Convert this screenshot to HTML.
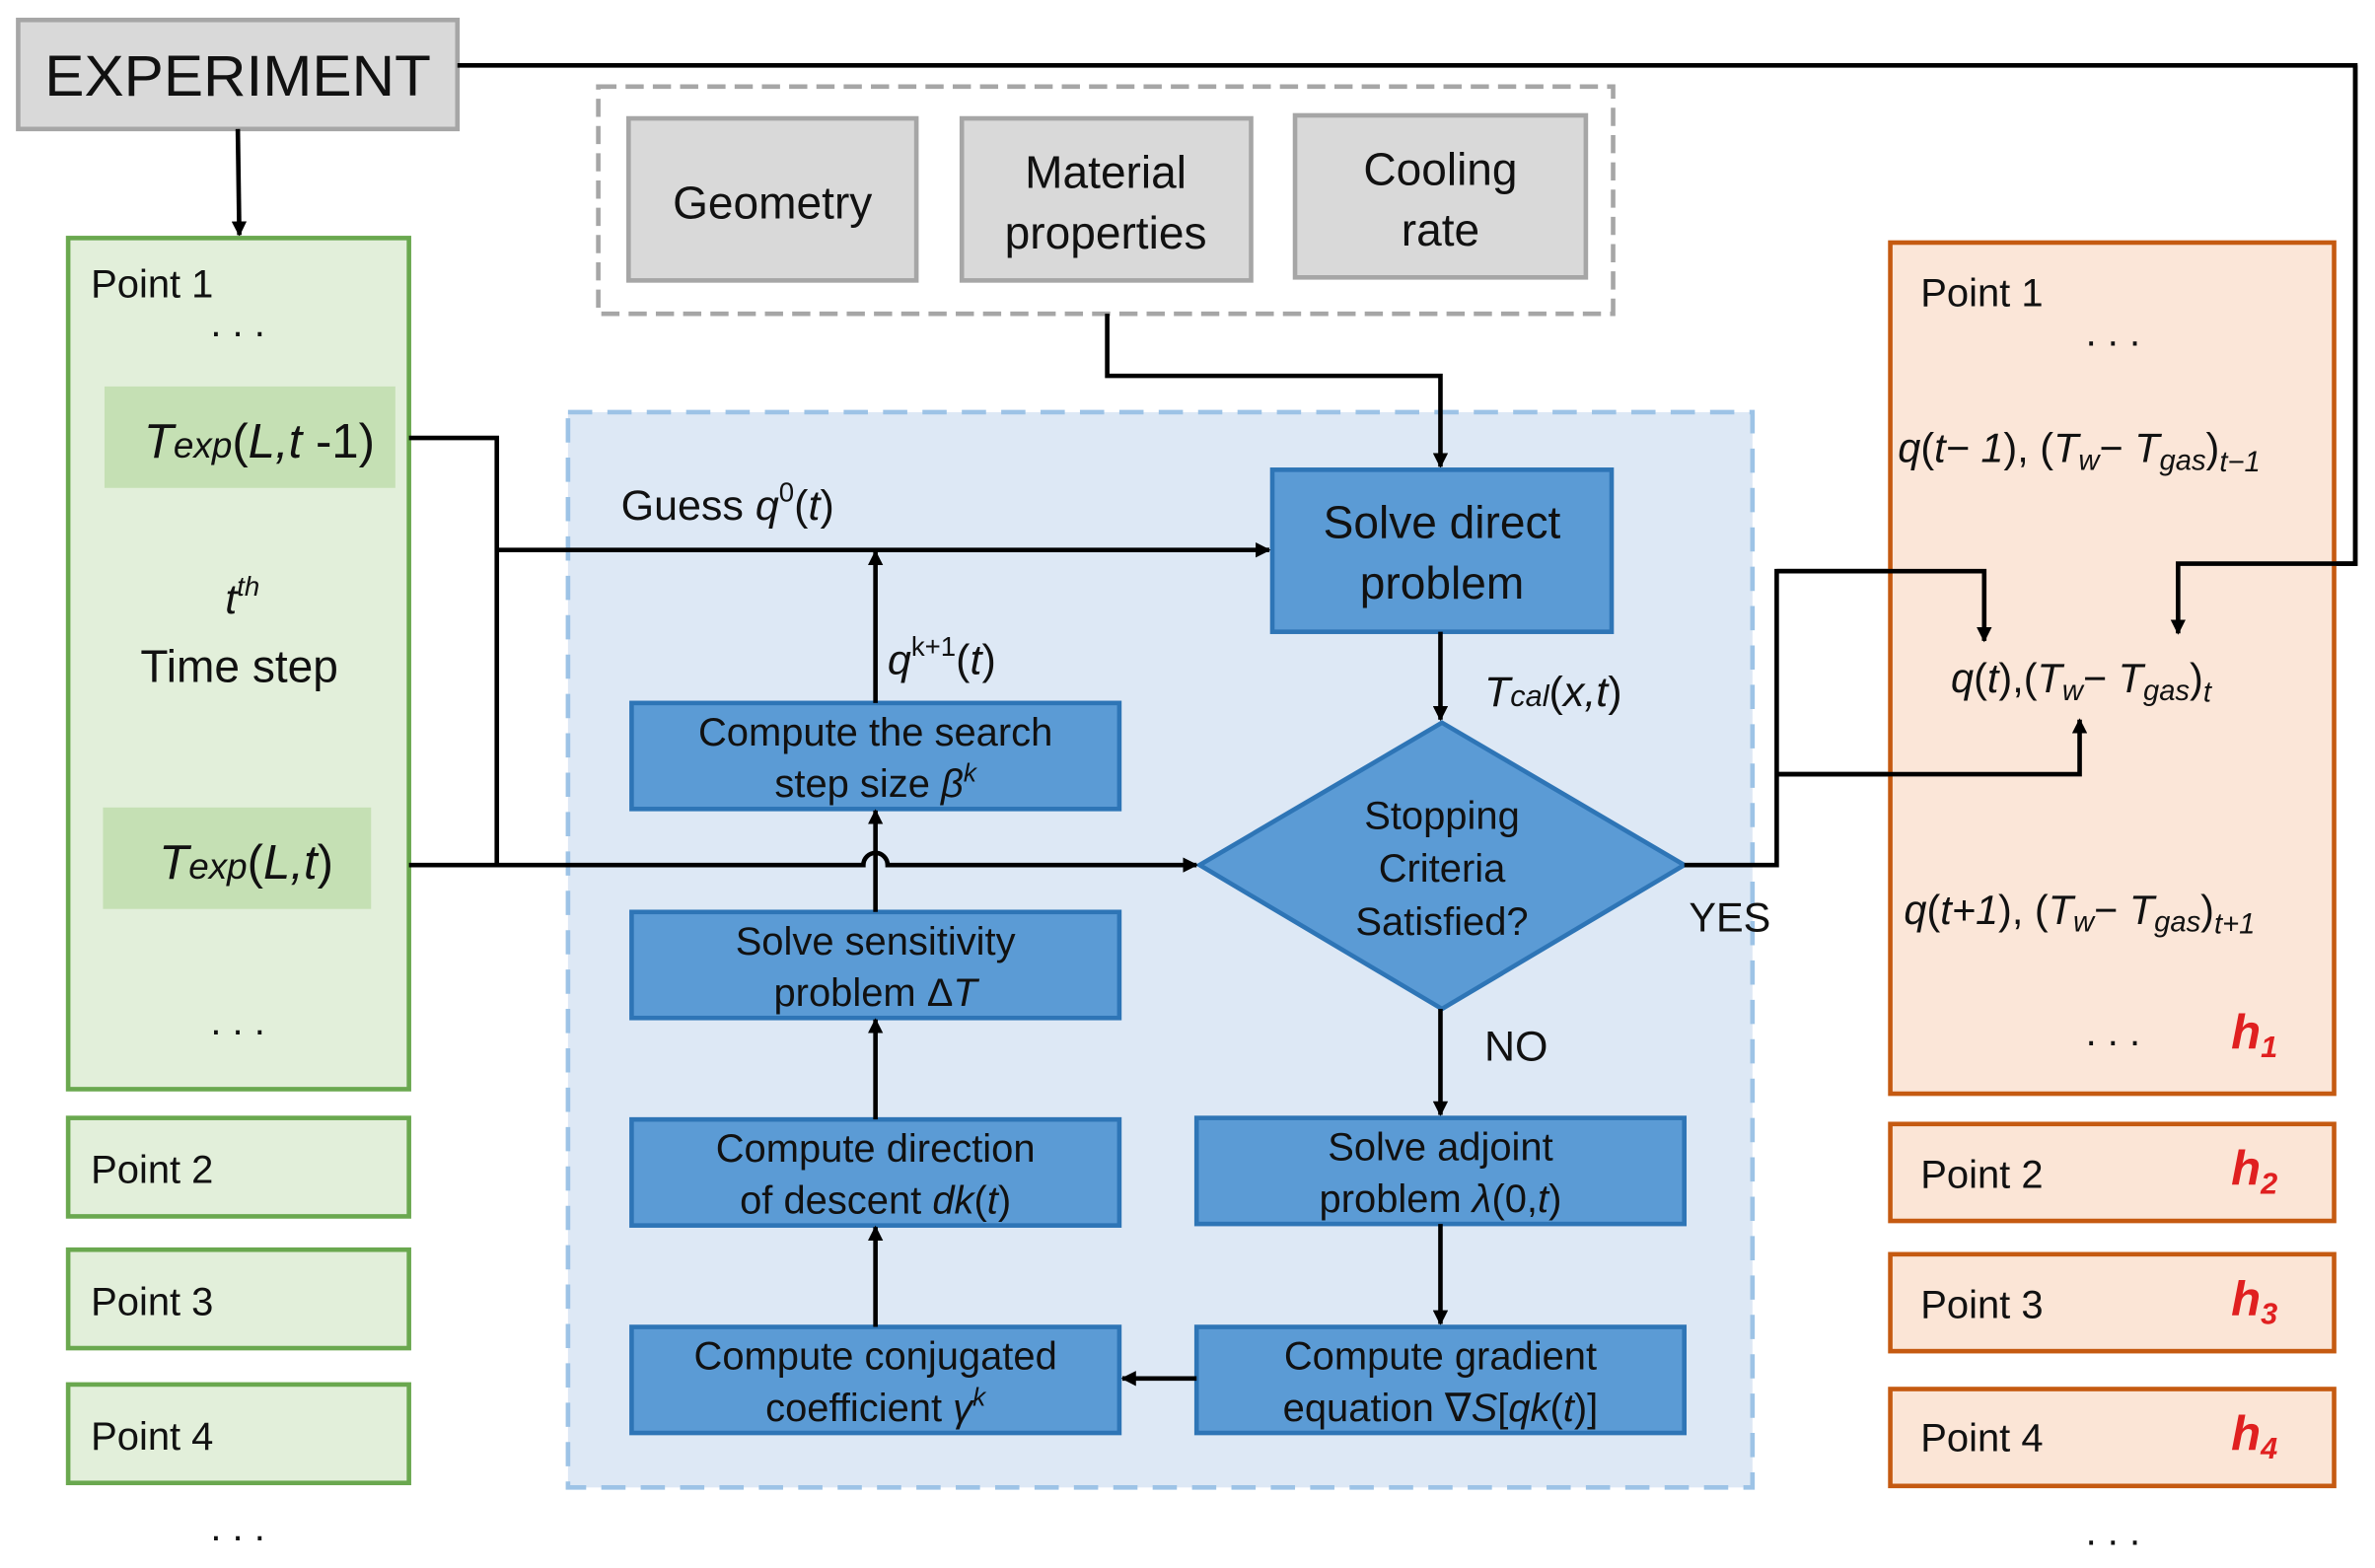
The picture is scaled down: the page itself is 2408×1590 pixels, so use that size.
<!DOCTYPE html>
<html><head><meta charset="utf-8"><style>
html,body{margin:0;padding:0;background:#fff;}
svg{display:block;}
text{font-family:"Liberation Sans",sans-serif;fill:#111;}
.i{font-style:italic;}
</style></head><body>
<svg width="2408" height="1590" viewBox="0 0 1568 1035" xmlns="http://www.w3.org/2000/svg">
<defs>
<marker id="a" markerWidth="10" markerHeight="10" refX="9" refY="5" orient="auto" markerUnits="userSpaceOnUse">
<path d="M0,0 L10,5 L0,10 z" fill="#000"/></marker>
</defs>
<!-- EXPERIMENT -->
<rect x="12" y="13" width="290" height="72" fill="#d9d9d9" stroke="#a6a6a6" stroke-width="3"/>
<text x="157" y="63" font-size="38" text-anchor="middle" textLength="255" lengthAdjust="spacingAndGlyphs">EXPERIMENT</text>
<polyline points="302,43 1555,43 1555,372 1438,372 1438,418" fill="none" stroke="#000" stroke-width="3" marker-end="url(#a)"/>
<line x1="157" y1="85" x2="158" y2="155" stroke="#000" stroke-width="3" marker-end="url(#a)"/>

<!-- Green column -->
<rect x="45" y="157" width="225" height="562" fill="#e2efda" stroke="#6aa84f" stroke-width="3"/>
<text x="60" y="196" font-size="26">Point 1</text>
<text x="157" y="222" font-size="26" text-anchor="middle">. . .</text>
<rect x="69" y="255" width="192" height="67" fill="#c5e0b4"/>
<text x="95" y="302" font-size="32"><tspan class="i">T</tspan><tspan class="i" font-size="24">exp</tspan><tspan>(</tspan><tspan class="i">L,t</tspan><tspan> -1)</tspan></text>
<text x="160" y="405" font-size="28" text-anchor="middle" class="i">t<tspan font-size="18" dy="-12">th</tspan></text>
<text x="158" y="450" font-size="30" text-anchor="middle">Time step</text>
<rect x="68" y="533" width="177" height="67" fill="#c5e0b4"/>
<text x="105" y="580" font-size="32"><tspan class="i">T</tspan><tspan class="i" font-size="24">exp</tspan><tspan>(</tspan><tspan class="i">L,t</tspan><tspan>)</tspan></text>
<text x="157" y="683" font-size="26" text-anchor="middle">. . .</text>
<rect x="45" y="738" width="225" height="65" fill="#e2efda" stroke="#6aa84f" stroke-width="3"/>
<text x="60" y="781" font-size="26">Point 2</text>
<rect x="45" y="825" width="225" height="65" fill="#e2efda" stroke="#6aa84f" stroke-width="3"/>
<text x="60" y="868" font-size="26">Point 3</text>
<rect x="45" y="914" width="225" height="65" fill="#e2efda" stroke="#6aa84f" stroke-width="3"/>
<text x="60" y="957" font-size="26">Point 4</text>
<text x="157" y="1017" font-size="26" text-anchor="middle">. . .</text>

<!-- Gray dashed group -->
<rect x="395" y="57" width="670" height="150" fill="none" stroke="#a6a6a6" stroke-width="3" stroke-dasharray="12,6"/>
<rect x="415" y="78" width="190" height="107" fill="#d9d9d9" stroke="#a6a6a6" stroke-width="3"/>
<text x="510" y="144" font-size="30" text-anchor="middle">Geometry</text>
<rect x="635" y="78" width="191" height="107" fill="#d9d9d9" stroke="#a6a6a6" stroke-width="3"/>
<text x="730" y="124" font-size="30" text-anchor="middle">Material</text>
<text x="730" y="164" font-size="30" text-anchor="middle">properties</text>
<rect x="855" y="76" width="192" height="107" fill="#d9d9d9" stroke="#a6a6a6" stroke-width="3"/>
<text x="951" y="122" font-size="30" text-anchor="middle">Cooling</text>
<text x="951" y="162" font-size="30" text-anchor="middle">rate</text>

<!-- Blue region -->
<rect x="375" y="272" width="782" height="710" fill="#dde8f5" stroke="#9dc3e6" stroke-width="3" stroke-dasharray="16,10"/>
<polyline points="731,207 731,248 951,248 951,308" fill="none" stroke="#000" stroke-width="3" marker-end="url(#a)"/>

<rect x="840" y="310" width="224" height="107" fill="#5b9bd5" stroke="#2e75b6" stroke-width="3"/>
<text x="952" y="355" font-size="30" text-anchor="middle">Solve direct</text>
<text x="952" y="395" font-size="30" text-anchor="middle">problem</text>
<line x1="951" y1="417" x2="951" y2="475" stroke="#000" stroke-width="3" marker-end="url(#a)"/>
<text x="980" y="466" font-size="28" class="i">T<tspan font-size="20">cal</tspan><tspan font-style="normal">(</tspan>x,t<tspan font-style="normal">)</tspan></text>

<polygon points="952,477 1112,571 952,666 792,571" fill="#5b9bd5" stroke="#2e75b6" stroke-width="3"/>
<text x="952" y="547" font-size="26" text-anchor="middle">Stopping</text>
<text x="952" y="582" font-size="26" text-anchor="middle">Criteria</text>
<text x="952" y="617" font-size="26" text-anchor="middle">Satisfied?</text>
<text x="1115" y="615" font-size="27">YES</text>
<text x="980" y="700" font-size="28">NO</text>
<line x1="951" y1="666" x2="951" y2="736" stroke="#000" stroke-width="3" marker-end="url(#a)"/>

<rect x="790" y="738" width="322" height="70" fill="#5b9bd5" stroke="#2e75b6" stroke-width="3"/>
<text x="951" y="766" font-size="26" text-anchor="middle">Solve adjoint</text>
<text x="951" y="800" font-size="26" text-anchor="middle">problem <tspan class="i">λ</tspan>(0,<tspan class="i">t</tspan>)</text>
<line x1="951" y1="808" x2="951" y2="874" stroke="#000" stroke-width="3" marker-end="url(#a)"/>
<rect x="790" y="876" width="322" height="70" fill="#5b9bd5" stroke="#2e75b6" stroke-width="3"/>
<text x="951" y="904" font-size="26" text-anchor="middle">Compute gradient</text>
<text x="951" y="938" font-size="26" text-anchor="middle">equation ∇<tspan class="i">S</tspan>[<tspan class="i">qk</tspan>(<tspan class="i">t</tspan>)]</text>
<line x1="790" y1="910" x2="741" y2="910" stroke="#000" stroke-width="3" marker-end="url(#a)"/>

<rect x="417" y="876" width="322" height="70" fill="#5b9bd5" stroke="#2e75b6" stroke-width="3"/>
<text x="578" y="904" font-size="26" text-anchor="middle">Compute conjugated</text>
<text x="578" y="938" font-size="26" text-anchor="middle">coefficient <tspan class="i">γ</tspan><tspan class="i" font-size="17" dy="-10">k</tspan></text>
<rect x="417" y="739" width="322" height="70" fill="#5b9bd5" stroke="#2e75b6" stroke-width="3"/>
<text x="578" y="767" font-size="26" text-anchor="middle">Compute direction</text>
<text x="578" y="801" font-size="26" text-anchor="middle">of descent <tspan class="i">dk</tspan>(<tspan class="i">t</tspan>)</text>
<rect x="417" y="602" width="322" height="70" fill="#5b9bd5" stroke="#2e75b6" stroke-width="3"/>
<text x="578" y="630" font-size="26" text-anchor="middle">Solve sensitivity</text>
<text x="578" y="664" font-size="26" text-anchor="middle">problem Δ<tspan class="i">T</tspan></text>
<rect x="417" y="464" width="322" height="70" fill="#5b9bd5" stroke="#2e75b6" stroke-width="3"/>
<text x="578" y="492" font-size="26" text-anchor="middle">Compute the search</text>
<text x="578" y="526" font-size="26" text-anchor="middle">step size <tspan class="i">β</tspan><tspan class="i" font-size="17" dy="-10">k</tspan></text>

<line x1="578" y1="876" x2="578" y2="810" stroke="#000" stroke-width="3" marker-end="url(#a)"/>
<line x1="578" y1="739" x2="578" y2="673" stroke="#000" stroke-width="3" marker-end="url(#a)"/>
<line x1="578" y1="602" x2="578" y2="535" stroke="#000" stroke-width="3" marker-end="url(#a)"/>
<line x1="578" y1="464" x2="578" y2="364" stroke="#000" stroke-width="3" marker-end="url(#a)"/>
<text x="586" y="445" font-size="28" class="i">q<tspan font-size="18" dy="-12" font-style="normal">k+1</tspan><tspan dy="12" font-style="normal">(</tspan>t<tspan font-style="normal">)</tspan></text>
<text x="410" y="343" font-size="28">Guess <tspan class="i">q</tspan><tspan font-size="18" dy="-12">0</tspan><tspan dy="12">(</tspan><tspan class="i">t</tspan>)</text>

<!-- left connectors -->
<polyline points="270,289 328,289 328,571" fill="none" stroke="#000" stroke-width="3"/>
<line x1="328" y1="363" x2="838" y2="363" stroke="#000" stroke-width="3" marker-end="url(#a)"/>
<path d="M270,571 L570,571 A8,8 0 0 1 586,571 L790,571" fill="none" stroke="#000" stroke-width="3" marker-end="url(#a)"/>

<!-- YES connectors -->
<polyline points="1112,571 1173,571 1173,377 1310,377 1310,423" fill="none" stroke="#000" stroke-width="3" marker-end="url(#a)"/>
<polyline points="1173,511 1373,511 1373,475" fill="none" stroke="#000" stroke-width="3" marker-end="url(#a)"/>

<!-- Orange column -->
<rect x="1248" y="160" width="293" height="562" fill="#fbe5d6" fill-opacity="0.95" stroke="#c55a11" stroke-width="3"/>
<polyline points="1173,377 1310,377 1310,423" fill="none" stroke="#000" stroke-width="3" marker-end="url(#a)"/>
<polyline points="1173,511 1373,511 1373,475" fill="none" stroke="#000" stroke-width="3" marker-end="url(#a)"/>
<polyline points="1555,43 1555,372 1438,372 1438,418" fill="none" stroke="#000" stroke-width="3" marker-end="url(#a)"/>
<text x="1268" y="202" font-size="26">Point 1</text>
<text x="1395" y="228" font-size="26" text-anchor="middle">. . .</text>
<text x="1253" y="305" font-size="27" class="i">q<tspan font-style="normal">(</tspan>t− 1<tspan font-style="normal">), (</tspan>T<tspan font-size="19" dy="5">w</tspan><tspan dy="-5" font-style="normal">− </tspan>T<tspan font-size="19" dy="5">gas</tspan><tspan dy="-5" font-style="normal">)</tspan><tspan font-size="19" dy="6">t−1</tspan></text>
<text x="1288" y="457" font-size="27" class="i">q<tspan font-style="normal">(</tspan>t<tspan font-style="normal">),(</tspan>T<tspan font-size="19" dy="5">w</tspan><tspan dy="-5" font-style="normal">− </tspan>T<tspan font-size="19" dy="5">gas</tspan><tspan dy="-5" font-style="normal">)</tspan><tspan font-size="19" dy="6">t</tspan></text>
<text x="1257" y="610" font-size="27" class="i">q<tspan font-style="normal">(</tspan>t+1<tspan font-style="normal">), (</tspan>T<tspan font-size="19" dy="5">w</tspan><tspan dy="-5" font-style="normal">− </tspan>T<tspan font-size="19" dy="5">gas</tspan><tspan dy="-5" font-style="normal">)</tspan><tspan font-size="19" dy="6">t+1</tspan></text>
<text x="1395" y="690" font-size="26" text-anchor="middle">. . .</text>
<text x="1473" y="692" font-size="32" class="i" font-weight="bold" fill="#e02020" style="fill:#e02020">h<tspan font-size="20" dy="6">1</tspan></text>
<rect x="1248" y="742" width="293" height="64" fill="#fbe5d6" stroke="#c55a11" stroke-width="3"/>
<text x="1268" y="784" font-size="26">Point 2</text>
<text x="1473" y="782" font-size="32" class="i" font-weight="bold" style="fill:#e02020">h<tspan font-size="20" dy="6">2</tspan></text>
<rect x="1248" y="828" width="293" height="64" fill="#fbe5d6" stroke="#c55a11" stroke-width="3"/>
<text x="1268" y="870" font-size="26">Point 3</text>
<text x="1473" y="868" font-size="32" class="i" font-weight="bold" style="fill:#e02020">h<tspan font-size="20" dy="6">3</tspan></text>
<rect x="1248" y="917" width="293" height="64" fill="#fbe5d6" stroke="#c55a11" stroke-width="3"/>
<text x="1268" y="958" font-size="26">Point 4</text>
<text x="1473" y="957" font-size="32" class="i" font-weight="bold" style="fill:#e02020">h<tspan font-size="20" dy="6">4</tspan></text>
<text x="1395" y="1020" font-size="26" text-anchor="middle">. . .</text>
</svg>
</body></html>
